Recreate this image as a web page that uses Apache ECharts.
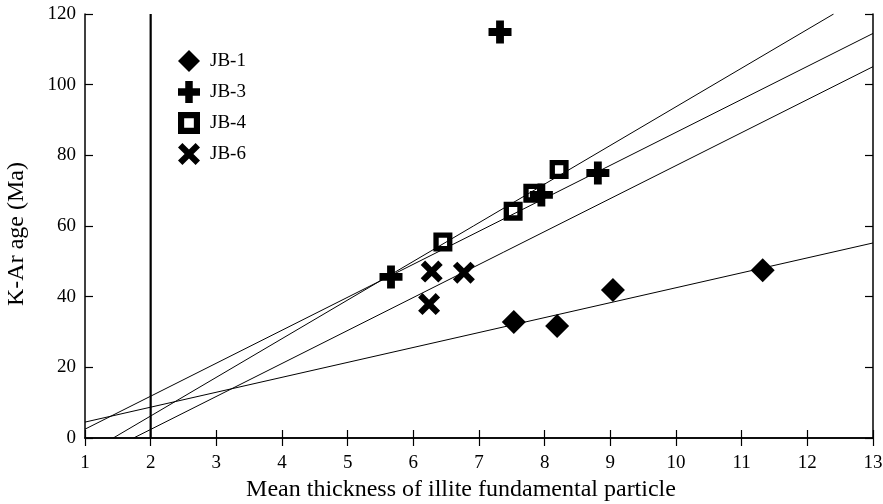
<!DOCTYPE html>
<html>
<head>
<meta charset="utf-8">
<script src="https://cdn.jsdelivr.net/npm/echarts@6/dist/echarts.min.js"></script>
<style>
  html, body { margin: 0; padding: 0; background: #fff; }
  #chart { width: 883px; height: 504px; }
</style>
</head>
<body>
<div id="chart"></div>
<script>
// samples: [mean thickness, K-Ar age]
const jb1 = [[7.53, 32.8], [8.19, 31.7], [9.04, 41.9], [11.32, 47.5]];
const jb3 = [[5.66, 45.6], [7.32, 114.9], [7.95, 68.8], [8.81, 75.0]];
const jb4 = [[6.45, 55.5], [7.52, 64.2], [7.82, 69.3], [8.22, 76.0]];
const jb6 = [[6.28, 47.1], [6.77, 46.8], [6.24, 37.9]];

// regression lines, end points
const fitJb1 = [[1, 4.5], [13, 55.2]];
const fitJb3 = [[1, 2.5], [13, 114.5]];
const fitJb4 = [[1.43, 0], [12.4, 120]];
const fitJb6 = [[1.74, 0], [13, 105.1]];
const cutoff = [[2, 0], [2, 120]];

const names = ['JB-1', 'JB-3', 'JB-4', 'JB-6'];

const serif = 'Liberation Serif';
const plusPath = 'path://M3.3 0 H6.7 V3.3 H10 V6.7 H6.7 V10 H3.3 V6.7 H0 V3.3 H3.3 Z';
const crossPath = 'path://M0 2 L2 0 L5 3 L8 0 L10 2 L7 5 L10 8 L8 10 L5 7 L2 10 L0 8 L3 5 Z';
const squarePath = 'path://M0 0 L10 0 L10 10 L0 10 Z M2.8 2.8 L2.8 7.2 L7.2 7.2 L7.2 2.8 Z';

const chart = echarts.init(document.getElementById('chart'));

const axisLine = { show: true, lineStyle: { color: '#000', width: 1.5 } };
const axisTick = { show: true, inside: true, length: 8, lineStyle: { color: '#000', width: 1.2 } };

function fitLine(data, width) {
    return {
        type: 'line',
        data: data,
        showSymbol: false,
        symbol: 'none',
        silent: true,
        lineStyle: { color: '#000', width: width || 1 },
        z: 1
    };
}

function points(name, data, symbol, size) {
    return {
        name: name,
        type: 'scatter',
        data: data,
        symbol: symbol,
        symbolSize: size,
        itemStyle: { color: '#000', opacity: 1 },
        z: 3
    };
}

chart.setOption({
    animation: false,
    backgroundColor: '#fff',
    grid: { left: 85, right: 10, top: 14, bottom: 66, outerBoundsMode: 'none', containLabel: false },
    legend: {
        data: names,
        orient: 'vertical',
        left: 173,
        top: 45,
        itemWidth: 22,
        itemHeight: 22,
        itemGap: 9,
        textStyle: { fontFamily: serif, fontSize: 19, color: '#000', padding: [0, 0, 0, 5] }
    },
    xAxis: [
        {
            type: 'value',
            position: 'bottom',
            min: 1,
            max: 13,
            interval: 1,
            name: 'Mean thickness of illite fundamental particle',
            nameLocation: 'middle',
            nameGap: 37,
            nameTextStyle: { fontFamily: serif, fontSize: 24, color: '#000', padding: [0, 36, 0, 0] },
            axisLine: axisLine,
            axisTick: axisTick,
            axisLabel: { fontFamily: serif, fontSize: 19, color: '#000', margin: 16 },
            splitLine: { show: false }
        },
        {
            type: 'value',
            position: 'top',
            min: 1,
            max: 13,
            interval: 1,
            axisLine: axisLine,
            axisTick: axisTick,
            axisLabel: { show: false },
            splitLine: { show: false }
        }
    ],
    yAxis: [
        {
            type: 'value',
            position: 'left',
            min: 0,
            max: 120,
            interval: 20,
            name: 'K-Ar age (Ma)',
            nameLocation: 'middle',
            nameGap: 56,
            nameTextStyle: { fontFamily: serif, fontSize: 24, color: '#000', padding: [0, 16, 0, 0] },
            axisLine: axisLine,
            axisTick: axisTick,
            axisLabel: { fontFamily: serif, fontSize: 19, color: '#000', margin: 9 },
            splitLine: { show: false }
        },
        {
            type: 'value',
            position: 'right',
            min: 0,
            max: 120,
            interval: 20,
            axisLine: axisLine,
            axisTick: axisTick,
            axisLabel: { show: false },
            splitLine: { show: false }
        }
    ],
    series: [
        fitLine(cutoff, 2.2),
        fitLine(fitJb1),
        fitLine(fitJb3),
        fitLine(fitJb4),
        fitLine(fitJb6),
        points('JB-1', jb1, 'diamond', [24, 24]),
        points('JB-3', jb3, plusPath, [23, 23]),
        points('JB-4', jb4, squarePath, [19, 19]),
        points('JB-6', jb6, crossPath, [22, 22])
    ]
});

window.addEventListener('resize', () => chart.resize());
</script>
</body>
</html>
